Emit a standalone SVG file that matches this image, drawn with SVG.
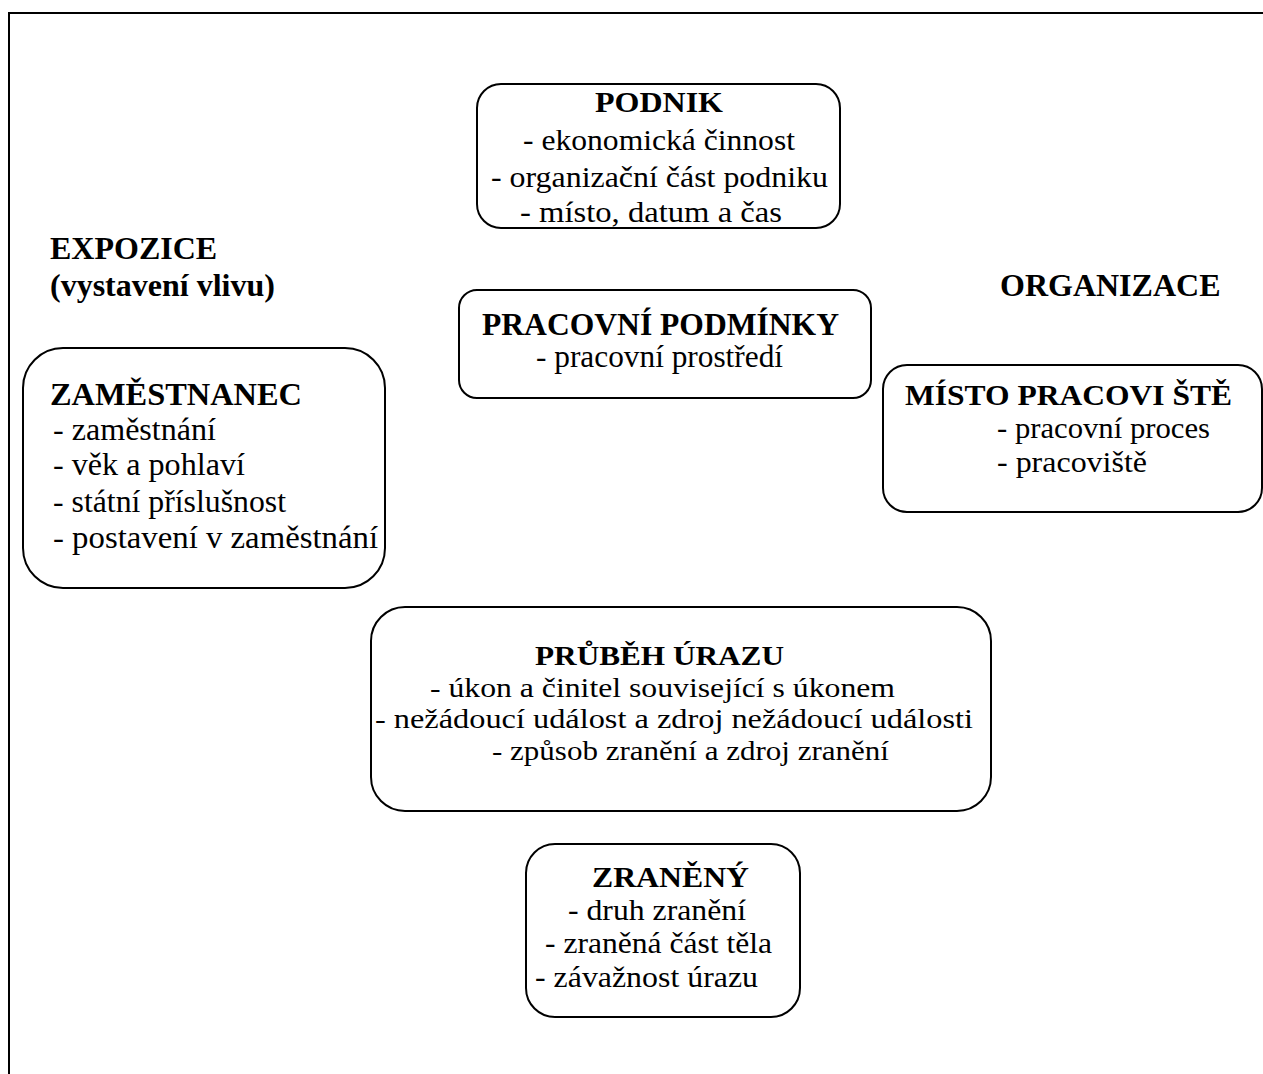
<svg xmlns="http://www.w3.org/2000/svg" width="1263" height="1074" viewBox="0 0 1263 1074">
<style>
.frame{fill:#fff;stroke:#000;stroke-width:2}
.box{fill:#fff;stroke:#000;stroke-width:2}
text{font-family:"Liberation Serif","Times New Roman",serif;fill:#000}
.b{font-weight:bold}
</style>
<rect x="0" y="0" width="1263" height="1074" fill="#fff"/>
<rect class="frame" x="9" y="13" width="1300" height="1100"/>
<g id="connectors"></g>
<g id="label-expozice" font-size="32">
<text class="b" x="50" y="259">EXPOZICE</text>
<text class="b" x="50" y="296">(vystavení vlivu)</text>
</g>
<g id="label-organizace" font-size="32">
<text class="b" x="1000" y="296">ORGANIZACE</text>
</g>
<g id="podnik" font-size="30">
<rect class="box" x="477" y="84" width="363" height="144" rx="24" ry="24"/>
<text class="b" x="595" y="112" textLength="128" lengthAdjust="spacingAndGlyphs">PODNIK</text>
<text x="523" y="150" textLength="272" lengthAdjust="spacingAndGlyphs">- ekonomická činnost</text>
<text x="491" y="187" textLength="337" lengthAdjust="spacingAndGlyphs">- organizační část podniku</text>
<text x="520" y="222" textLength="262" lengthAdjust="spacingAndGlyphs">- místo, datum a čas</text>
</g>
<g id="pracovni-podminky" font-size="31">
<rect class="box" x="459" y="290" width="412" height="108" rx="18" ry="18"/>
<text class="b" x="482" y="335" textLength="357" lengthAdjust="spacingAndGlyphs">PRACOVNÍ PODMÍNKY</text>
<text x="536" y="367" textLength="247" lengthAdjust="spacingAndGlyphs">- pracovní prostředí</text>
</g>
<g id="misto-pracoviste" font-size="30">
<rect class="box" x="883" y="365" width="379" height="147" rx="24" ry="24"/>
<text class="b" x="905" y="405" textLength="327" lengthAdjust="spacingAndGlyphs">MÍSTO PRACOVI ŠTĚ</text>
<text x="997" y="438" textLength="213" lengthAdjust="spacingAndGlyphs">- pracovní proces</text>
<text x="997" y="472" textLength="150" lengthAdjust="spacingAndGlyphs">- pracoviště</text>
</g>
<g id="zamestnanec" font-size="31">
<rect class="box" x="23" y="348" width="362" height="240" rx="40" ry="40"/>
<text class="b" x="50" y="405" textLength="252" lengthAdjust="spacingAndGlyphs">ZAMĚSTNANEC</text>
<text x="53" y="440" textLength="163" lengthAdjust="spacingAndGlyphs">- zaměstnání</text>
<text x="53" y="475" textLength="192" lengthAdjust="spacingAndGlyphs">- věk a pohlaví</text>
<text x="53" y="512" textLength="233" lengthAdjust="spacingAndGlyphs">- státní příslušnost</text>
<text x="53" y="548" textLength="325" lengthAdjust="spacingAndGlyphs">- postavení v zaměstnání</text>
</g>
<g id="prubeh-urazu" font-size="28">
<rect class="box" x="371" y="607" width="620" height="204" rx="34" ry="34"/>
<text class="b" x="535" y="665" textLength="249" lengthAdjust="spacingAndGlyphs">PRŮBĚH ÚRAZU</text>
<text x="430" y="697" textLength="465" lengthAdjust="spacingAndGlyphs">- úkon a činitel související s úkonem</text>
<text x="375" y="728" textLength="598" lengthAdjust="spacingAndGlyphs">- nežádoucí událost a zdroj nežádoucí události</text>
<text x="492" y="760" textLength="397" lengthAdjust="spacingAndGlyphs">- způsob zranění a zdroj zranění</text>
</g>
<g id="zraneny" font-size="29">
<rect class="box" x="526" y="844" width="274" height="173" rx="29" ry="29"/>
<text class="b" x="592" y="887" textLength="157" lengthAdjust="spacingAndGlyphs">ZRANĚNÝ</text>
<text x="568" y="920" textLength="178" lengthAdjust="spacingAndGlyphs">- druh zranění</text>
<text x="545" y="953" textLength="227" lengthAdjust="spacingAndGlyphs">- zraněná část těla</text>
<text x="535" y="987" textLength="223" lengthAdjust="spacingAndGlyphs">- závažnost úrazu</text>
</g>
</svg>
